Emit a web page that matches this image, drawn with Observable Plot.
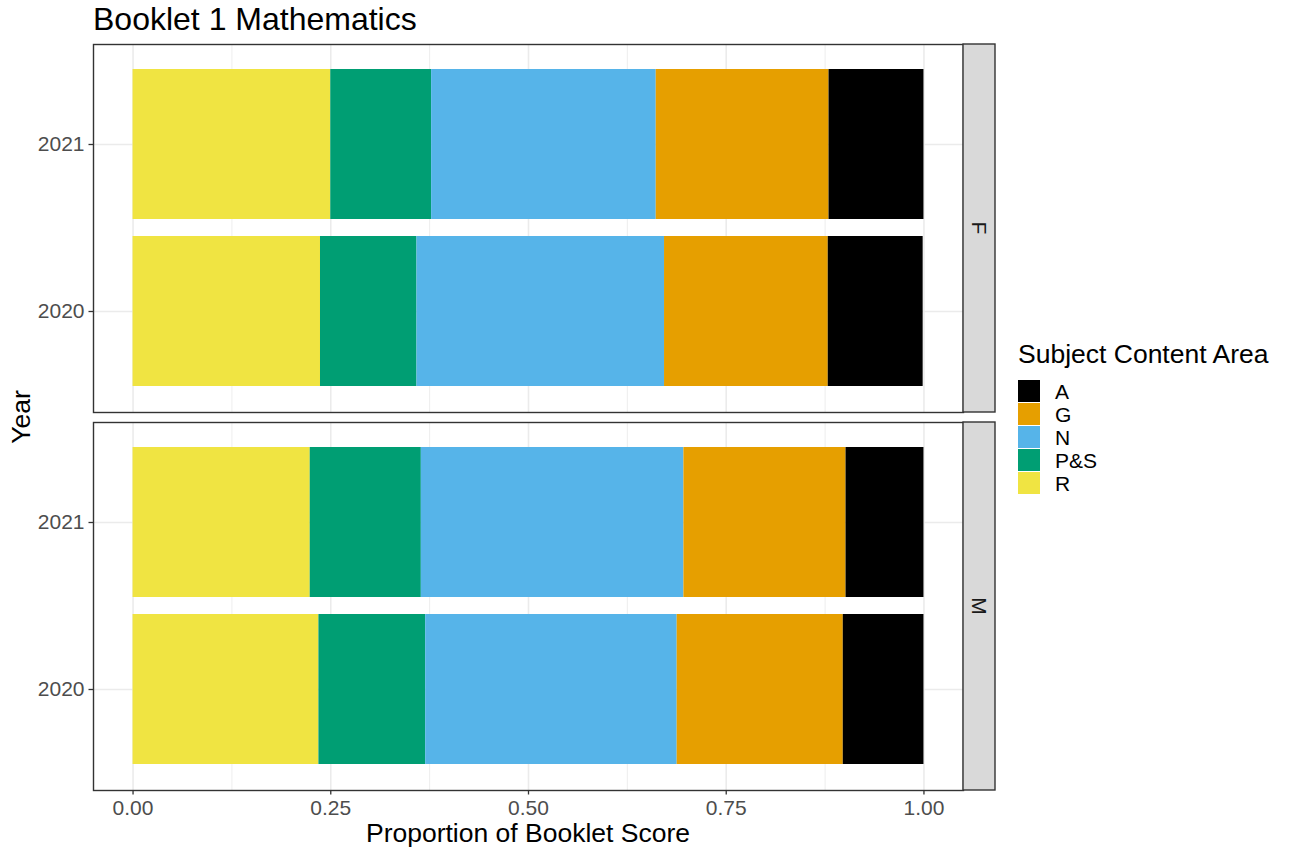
<!DOCTYPE html>
<html><head><meta charset="utf-8">
<script src="https://cdn.jsdelivr.net/npm/d3@7"></script>
<script src="https://cdn.jsdelivr.net/npm/@observablehq/plot@0.6"></script>
<style>body{margin:0;background:#fff;} svg{display:block}</style>
</head><body><div id="chart"></div>
<script>
// ---- data ----
const sexes = ["F", "F", "M", "M"];
const years = ["2021", "2020", "2021", "2020"];
const stackAreas = ["R", "P&S", "N", "G", "A"];
const valR  = [0.250, 0.237, 0.224, 0.235];
const valPS = [0.1275, 0.122, 0.1405, 0.135];
const valN  = [0.284, 0.313, 0.332, 0.318];
const valG  = [0.2185, 0.207, 0.205, 0.210];
const valA  = [0.120, 0.120, 0.0985, 0.102];
const legendAreas = ["A", "G", "N", "P&S", "R"];
const areaColors = ["#000000", "#E69F00", "#56B4E9", "#009E73", "#F0E442"];
const yearOrder = ["2021", "2020"];
const facetOrder = ["F", "M"];
const xTicks = [0, 0.25, 0.5, 0.75, 1];
const xMinor = [0.125, 0.375, 0.625, 0.875];

const valuesByArea = {"R": valR, "P&S": valPS, "N": valN, "G": valG, "A": valA};
const rows = [];
sexes.forEach((s, i) => {
  stackAreas.forEach(a => rows.push({sex: s, year: years[i], area: a, value: valuesByArea[a][i]}));
});

const FONT = "'Liberation Sans', Arial, Helvetica, sans-serif";

const chart = Plot.plot({
  width: 1290, height: 850,
  marginLeft: 93, marginRight: 327, marginTop: 44, marginBottom: 60,
  style: {fontFamily: FONT, background: "white"},
  x: {domain: [-0.05, 1.05], axis: null},
  y: {domain: yearOrder, paddingInner: 0.1, paddingOuter: 0.15, axis: null},
  fy: {domain: facetOrder, paddingInner: 10 / 378, paddingOuter: 0, axis: null},
  color: {domain: legendAreas, range: areaColors},
  marks: [
    Plot.gridX(xMinor, {stroke: "#ebebeb", strokeOpacity: 1, strokeWidth: 0.9}),
    Plot.gridX(xTicks, {stroke: "#ebebeb", strokeOpacity: 1, strokeWidth: 1.6}),
    Plot.gridY({stroke: "#ebebeb", strokeOpacity: 1, strokeWidth: 1.6}),
    Plot.barX(rows, Plot.stackX({x: "value", y: "year", fy: "sex", fill: "area", order: null})),
    Plot.frame({stroke: "#333333", strokeWidth: 1.4}),
    Plot.axisY({fontSize: 21, tickSize: 4.5, tickPadding: 4.5, fill: "#4d4d4d", stroke: "#333333", strokeWidth: 1.3, label: null}),
    Plot.axisX(xTicks, {fontSize: 21, tickSize: 4.5, tickPadding: 5, tickFormat: d3.format(".2f"), fill: "#4d4d4d", stroke: "#333333", strokeWidth: 1.3, label: null})
  ]
});

const svg = d3.select(chart);
const fy = chart.scale("fy");
const xs = chart.scale("x");
const bw = fy.bandwidth;
const panelRight = xs.apply(1.05);
const panelLeft = xs.apply(-0.05);

// facet strips
facetOrder.forEach(f => {
  const y0 = fy.apply(f);
  svg.append("rect").attr("x", panelRight).attr("y", y0).attr("width", 32).attr("height", bw)
    .attr("fill", "#d9d9d9").attr("stroke", "#333333").attr("stroke-width", 1.4);
  svg.append("text").attr("transform", `translate(${panelRight + 16},${y0 + bw / 2}) rotate(90)`)
    .attr("text-anchor", "middle").attr("dy", "0.35em")
    .attr("font-family", FONT).attr("font-size", 21).attr("fill", "#1a1a1a").text(f);
});

// title
svg.append("text").attr("x", panelLeft).attr("y", 29.5).attr("text-anchor", "start").attr("font-family", FONT)
  .attr("font-size", 32).attr("fill", "black").text("Booklet 1 Mathematics");
// x axis title
svg.append("text").attr("x", (panelLeft + panelRight) / 2).attr("y", 842).attr("text-anchor", "middle")
  .attr("font-family", FONT).attr("font-size", 26.5).attr("fill", "black").text("Proportion of Booklet Score");
// y axis title
const yMid = (fy.apply("F") + fy.apply("M") + bw) / 2;
svg.append("text").attr("transform", `translate(30,${yMid}) rotate(-90)`).attr("text-anchor", "middle")
  .attr("font-family", FONT).attr("font-size", 26.5).attr("fill", "black").text("Year");

// legend
const lg = svg.append("g").attr("transform", "translate(1018,0)").attr("text-anchor", "start");
lg.append("text").attr("x", 0).attr("y", 363).attr("text-anchor", "start").attr("font-family", FONT).attr("font-size", 26.5)
  .attr("fill", "black").text("Subject Content Area");
legendAreas.forEach((a, i) => {
  lg.append("rect").attr("x", 0).attr("y", 380 + 23 * i).attr("width", 22).attr("height", 22)
    .attr("fill", areaColors[i]);
  lg.append("text").attr("x", 37).attr("y", 391 + 23 * i).attr("dy", "0.36em").attr("text-anchor", "start")
    .attr("font-family", FONT).attr("font-size", 21).attr("fill", "black").text(a);
});

document.getElementById("chart").appendChild(chart);
</script>
</body></html>
